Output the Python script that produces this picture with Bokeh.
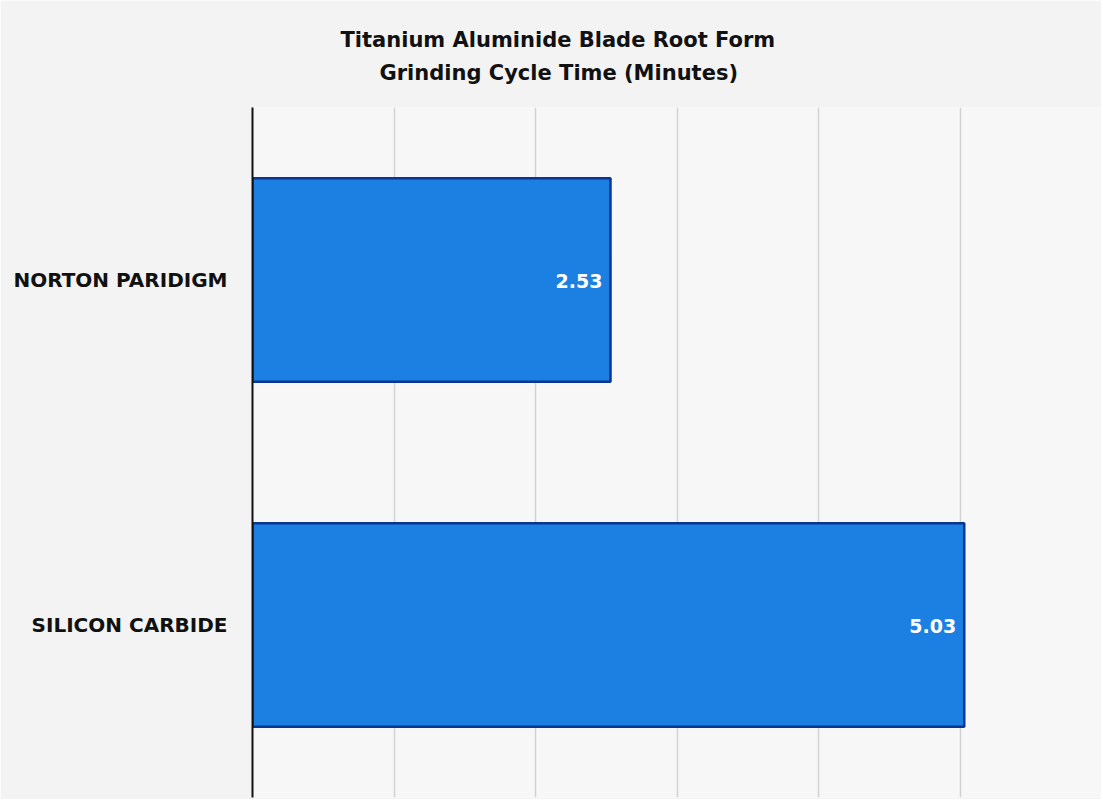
from bokeh.plotting import figure
from bokeh.models import ColumnDataSource, FactorRange, FixedTicker, Title, LabelSet, Range1d
from bokeh.core.properties import value
from bokeh.embed import file_html
from bokeh.resources import INLINE

categories = ["NORTON PARIDIGM", "SILICON CARBIDE"]
cycle_minutes = [2.53, 5.03]
value_labels = ["2.53", "5.03"]
grid_ticks = [1, 2, 3, 4, 5, 6]
title_lines = ["Titanium Aluminide Blade Root Form", "Grinding Cycle Time (Minutes)"]

source = ColumnDataSource(dict(cat=categories, val=cycle_minutes, lab=value_labels))

FONT = "DejaVu Sans"

p = figure(
    width=1101, height=799,
    y_range=FactorRange(factors=list(reversed(categories)), range_padding=0),
    x_range=Range1d(0, 6),
    output_backend="svg", toolbar_location=None,
    min_border_left=252, min_border_right=0, min_border_bottom=2, min_border_top=107,
)
p.title = None

p.hbar(y="cat", right="val", left=0, height=0.59, source=source,
       fill_color="#1c7fe2", line_color="#0b3592", line_width=2.5)

labels = LabelSet(x="val", y="cat", text="lab", source=source, x_offset=-8, y_offset=-1,
                  text_align="right", text_baseline="middle", text_color="white",
                  text_font=value(FONT), text_font_style="bold", text_font_size="19px")
p.add_layout(labels)

t2 = Title(text=title_lines[1], align="left", offset=127, vertical_align="top",
           text_font=FONT, text_font_style="bold", text_font_size="21px",
           text_color="#111111", standoff=41)
t1 = Title(text=title_lines[0], align="left", offset=88,
           text_font=FONT, text_font_style="bold", text_font_size="21px",
           text_color="#111111", standoff=-23)
p.add_layout(t2, "above")
p.add_layout(t1, "above")

p.xaxis.visible = False
p.xaxis.ticker = FixedTicker(ticks=grid_ticks)
p.xgrid.ticker = FixedTicker(ticks=grid_ticks)
p.xgrid.grid_line_color = "#d2d2d2"
p.xgrid.grid_line_width = 1.5
p.ygrid.grid_line_color = None

p.yaxis.axis_line_color = "#111111"
p.yaxis.axis_line_width = 2
p.yaxis.major_tick_line_color = None
p.yaxis.minor_tick_line_color = None
p.yaxis.major_label_standoff = 19
p.yaxis.major_label_text_font = FONT
p.yaxis.major_label_text_font_style = "bold"
p.yaxis.major_label_text_font_size = "20px"
p.yaxis.major_label_text_color = "#111111"

p.outline_line_color = None
p.background_fill_color = "#f7f7f7"
p.border_fill_color = "#f3f3f3"

open("out.html", "w").write(file_html(p, INLINE))
